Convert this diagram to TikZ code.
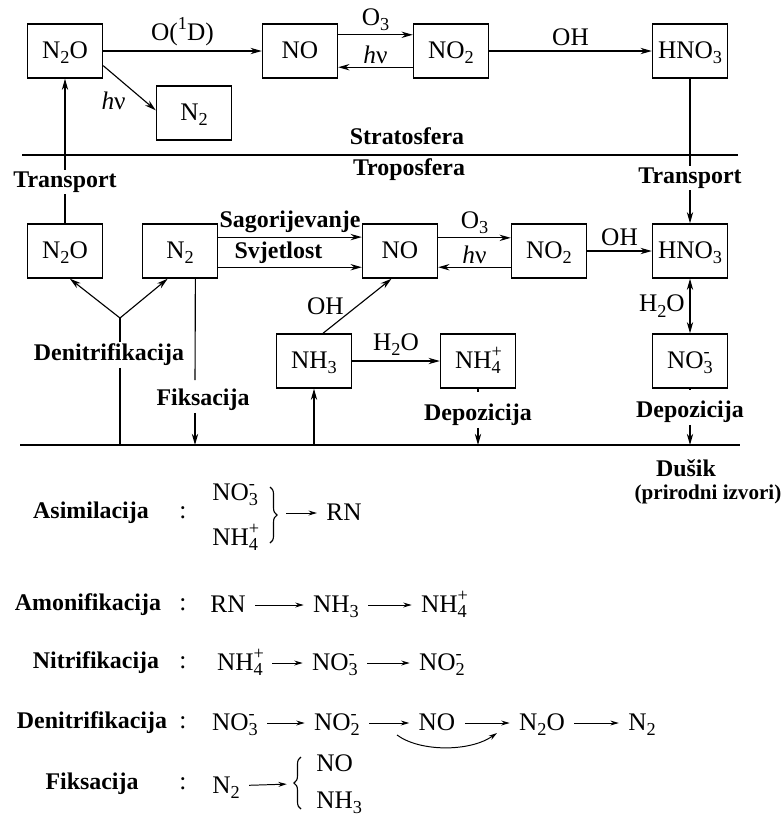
\documentclass[tikz,border=0pt]{standalone}
\usepackage{fontspec}
\setmainfont{Liberation Serif}
\usetikzlibrary{arrows.meta,decorations.pathreplacing}
\newcommand{\chd}[1]{\raisebox{-0.45ex}{\fontsize{13}{13}\selectfont #1}}
\newcommand{\chu}[1]{\raisebox{0.95ex}{\fontsize{13}{13}\selectfont #1}}
\newcommand{\chud}[2]{\rlap{\chu{#2}}\chd{#1}}
\tikzset{
  eq/.style={text height=13pt,text depth=3pt},
  box/.style={eq,draw,line width=1pt,minimum width=1.875cm,minimum height=1.35cm,inner sep=0pt},
  lbl/.style={font=\fontsize{17}{20}\selectfont\bfseries,inner sep=1pt},
  arr/.style={-{Stealth[length=8pt,width=4.5pt]},line width=0.8pt},
  darr/.style={{Stealth[length=8pt,width=4.5pt]}-{Stealth[length=8pt,width=4.5pt]},line width=0.8pt},
  rarr/.style={-{Stealth[length=6pt,width=3.5pt]},line width=0.7pt,shorten <=3pt,shorten >=3pt},
  brc/.style={decorate,decoration={brace,amplitude=5pt},line width=0.8pt}
}
\begin{document}
\begin{tikzpicture}[x=0.025cm,y=-0.025cm,line width=0.8pt,font=\fontsize{18}{21}\selectfont]
\useasboundingbox (0,0) rectangle (783,817);
% boxes
\foreach \n/\x/\y/\t in {sN2O/65/51/N\chd{2}O, sNO/300/51/NO, sNO2/451/51/NO\chd{2}, sHNO3/690/51/HNO\chd{3}, sN2/194/113/N\chd{2},
    tN2O/65/251/N\chd{2}O, tN2/180/251/N\chd{2}, tNO/400/251/NO, tNO2/549/251/NO\chd{2}, tHNO3/690/251/HNO\chd{3},
    tNH3/314/361/NH\chd{3}, tNH4/478/361/NH\chud{4}{+}, tNO3/690/361/NO\chud{3}{-}}
  \node[box] (\n) at (\x,\y) {\t};
% stratosfera
\draw[arr] (sN2O) -- node[above]{O(\chu{1}D)} (sNO);
\draw[arr] (sN2O.-21) -- node[below left=-1pt]{\textit{h}ν} (sN2.176);
\draw[arr] (sNO.23) -- node[above=-1pt]{O\chd{3}} (sNO2.157);
\draw[arr] (sNO2.-157) -- node[above=-1pt]{\textit{h}ν} (sNO.-23);
\draw[arr] (sNO2) -- node[above]{OH} (sHNO3);
\draw[line width=1pt] (22,155) coordinate (st1) -- (738,155) coordinate (st2);
\node[lbl] (strat) at (407,136) {Stratosfera};
\node[lbl] (trop) at (409,170) {Troposfera};
\node[lbl] (trL) at (65,182) {Transport};
\node[lbl] (trR) at (690,178) {Transport};
\draw[arr] (trL) -- (sN2O);
\draw (tN2O) -- (trL);
\draw (sHNO3) -- (trR);
\draw[arr] (trR) -- (tHNO3);
% troposfera
\draw[arr] (tN2.20) -- node[lbl,above=2pt]{Sagorijevanje} (tNO.160);
\draw[arr] (tN2.-23) -- node[lbl,above=1pt,pos=0.42]{Svjetlost} (tNO.-157);
\draw[arr] (tNO.19) -- node[above=-1pt]{O\chd{3}} (tNO2.161);
\draw[arr] (tNO2.-157) -- node[above=-1pt]{\textit{h}ν} (tNO.-23);
\draw[arr] (tNO2) -- node[above]{OH} (tHNO3);
\draw[darr] (tHNO3) -- node[left]{H\chd{2}O} (tNO3);
\draw[arr] (tNH3) -- node[above]{H\chd{2}O} (tNH4);
\draw[arr] (tNH3.72) -- node[left=6pt]{OH} (tNO.253);
% tlo
\draw[line width=1pt] (20,445) coordinate (gl1) -- (740,445) coordinate (gl2);
\foreach \c/\x in {gD/120, gF/195, gA/314, gB/478, gC/690}
  \coordinate (\c) at (\x,445);
\coordinate (dj) at (120,318);
\draw[arr] (dj) -- (tN2O.-80);
\draw[arr] (dj) -- (tN2.-114);
\node[lbl] (den) at (109,355) {Denitrifikacija};
\draw (dj) -- (dj |- den.north);
\draw (gD |- den.south) -- (gD);
\node[lbl] (fix) at (203,400) {Fiksacija};
\draw[shorten >=5pt] (tN2.-61) -- (gF |- fix.north);
\draw[arr] (gF |- fix.south) -- (gF);
\draw[arr] (gA) -- (tNH3);
\node[lbl] (depB) at (478,415) {Depozicija};
\draw[shorten >=7pt] (tNH4) -- (depB);
\draw[arr] (depB) -- (gB);
\node[lbl] (depC) at (690,412) {Depozicija};
\draw[shorten >=7pt] (tNO3) -- (depC);
\draw[arr] (depC) -- (gC);
\node[lbl] (dusik) at (686,468) {Dušik};
\node[lbl,font=\fontsize{15}{18}\selectfont\bfseries] (izvori) at (708,494) {(prirodni izvori)};
% procesi
\foreach \t/\x/\y in {Asimilacija/91/513, Amonifikacija/88/605, Nitrifikacija/96/663, Denitrifikacija/92/723, Fiksacija/92/784}
  {\node[lbl] (l\t) at (\x,\y) {\t};
   \node (c\t) at (183,\y) {:};}
\node[eq,anchor=west] (aNO3) at (207,493) {NO\chud{3}{-}};
\node[eq,anchor=west] (aNH4) at (207,538) {NH\chud{4}{+}};
\draw[brc] (270,487) -- (270,543);
\coordinate (abr) at (282,513);
\node[eq] (aRN) at (344,513) {RN};
\draw[rarr] (abr) -- (aRN);
\node[eq] (mRN) at (228,605) {RN};
\node[eq] (mNH3) at (336,605) {NH\chd{3}};
\node[eq] (mNH4) at (444,605) {NH\chud{4}{+}};
\draw[rarr] (mRN) -- (mNH3);
\draw[rarr] (mNH3) -- (mNH4);
\node[eq] (nNH4) at (240,663) {NH\chud{4}{+}};
\node[eq] (nNO3) at (335,663) {NO\chud{3}{-}};
\node[eq] (nNO2) at (442,663) {NO\chud{2}{-}};
\draw[rarr] (nNH4) -- (nNO3);
\draw[rarr] (nNO3) -- (nNO2);
\node[eq] (dNO3) at (235,723) {NO\chud{3}{-}};
\node[eq] (dNO2) at (337,723) {NO\chud{2}{-}};
\node[eq] (dNO) at (437,723) {NO};
\node[eq] (dN2O) at (542,723) {N\chd{2}O};
\node[eq] (dN2) at (642,723) {N\chd{2}};
\draw[rarr] (dNO3) -- (dNO2);
\draw[rarr] (dNO2) -- (dNO);
\draw[rarr] (dNO) -- (dN2O);
\draw[rarr] (dN2O) -- (dN2);
\coordinate (cvA) at (397,735);
\coordinate (cvB) at (497,733);
\draw[rarr,shorten <=0pt,shorten >=0pt] (cvA) .. controls (420,752) and (470,752) .. (cvB);
\node[eq] (fN2) at (226,786) {N\chd{2}};
\coordinate (fbr) at (291,784);
\draw[rarr] (fN2) -- (fbr);
\draw[brc] (301,809) -- (301,757);
\node[eq,anchor=west] (fNO) at (311,764) {NO};
\node[eq,anchor=west] (fNH3) at (311,801) {NH\chd{3}};
\end{tikzpicture}
\end{document}
